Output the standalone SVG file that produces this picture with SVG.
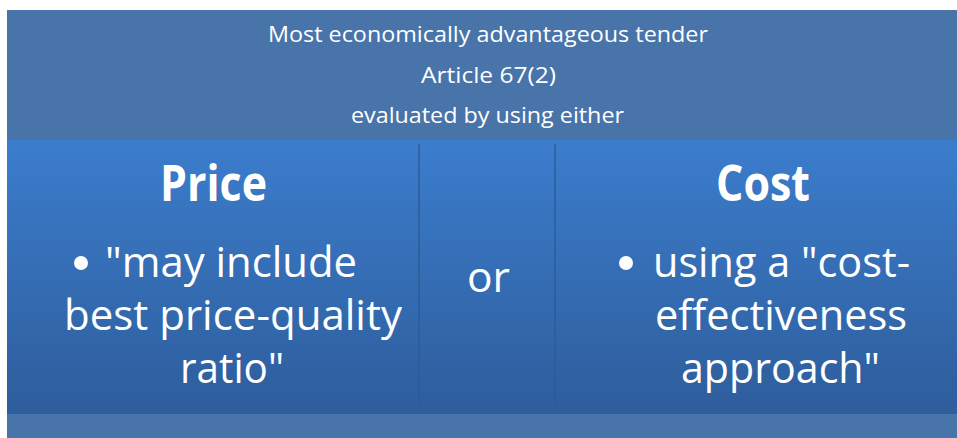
<svg xmlns="http://www.w3.org/2000/svg" width="957" height="438" viewBox="0 0 957 438">
<defs>
<linearGradient id="col" x1="0" y1="0" x2="0" y2="1">
<stop offset="0" stop-color="#3B7DCD"/>
<stop offset="1" stop-color="#2E5D9B"/>
</linearGradient>
</defs>
<style>
text{fill:#fff;font-family:"Open Sans","Liberation Sans",sans-serif}
.t{font-size:21px}
.h{font-size:50px;font-weight:bold}
.b{font-size:42px}
.div{stroke:#2C5C98;stroke-width:1.5}
</style>
<rect x="0" y="0" width="957" height="438" fill="#fff"/>
<g id="header">
<rect x="7" y="10" width="950" height="428" fill="#4874AA"/>
<text class="t" x="268" y="42" textLength="440" lengthAdjust="spacingAndGlyphs">Most economically advantageous tender</text>
<text class="t" x="421" y="83" textLength="135" lengthAdjust="spacingAndGlyphs">Article 67(2)</text>
<text class="t" x="351" y="123" textLength="273" lengthAdjust="spacingAndGlyphs">evaluated by using either</text>
</g>
<g id="price">
<rect x="7" y="140" width="412" height="274" fill="url(#col)"/>
<text class="h" x="160" y="201" textLength="107" lengthAdjust="spacingAndGlyphs">Price</text>
<circle cx="81" cy="263" r="7" fill="#fff"/>
<text class="b" x="105" y="277" textLength="252" lengthAdjust="spacingAndGlyphs">"may include</text>
<text class="b" x="64" y="330" textLength="338" lengthAdjust="spacingAndGlyphs">best price-quality</text>
<text class="b" x="180" y="383" textLength="104" lengthAdjust="spacingAndGlyphs">ratio"</text>
</g>
<g id="or">
<rect x="419" y="140" width="136" height="274" fill="url(#col)"/>
<text class="b" x="467" y="292" textLength="43" lengthAdjust="spacingAndGlyphs">or</text>
</g>
<g id="cost">
<rect x="555" y="140" width="402" height="274" fill="url(#col)"/>
<text class="h" x="716" y="201" textLength="94" lengthAdjust="spacingAndGlyphs">Cost</text>
<circle cx="626" cy="263" r="7" fill="#fff"/>
<text class="b" x="653" y="277" textLength="257" lengthAdjust="spacingAndGlyphs">using a "cost-</text>
<text class="b" x="655" y="330" textLength="252" lengthAdjust="spacingAndGlyphs">effectiveness</text>
<text class="b" x="681" y="383" textLength="199" lengthAdjust="spacingAndGlyphs">approach"</text>
</g>
<g id="connectors">
<line class="div" x1="419" y1="144" x2="419" y2="414"/>
<line class="div" x1="555" y1="144" x2="555" y2="414"/>
</g>
</svg>
